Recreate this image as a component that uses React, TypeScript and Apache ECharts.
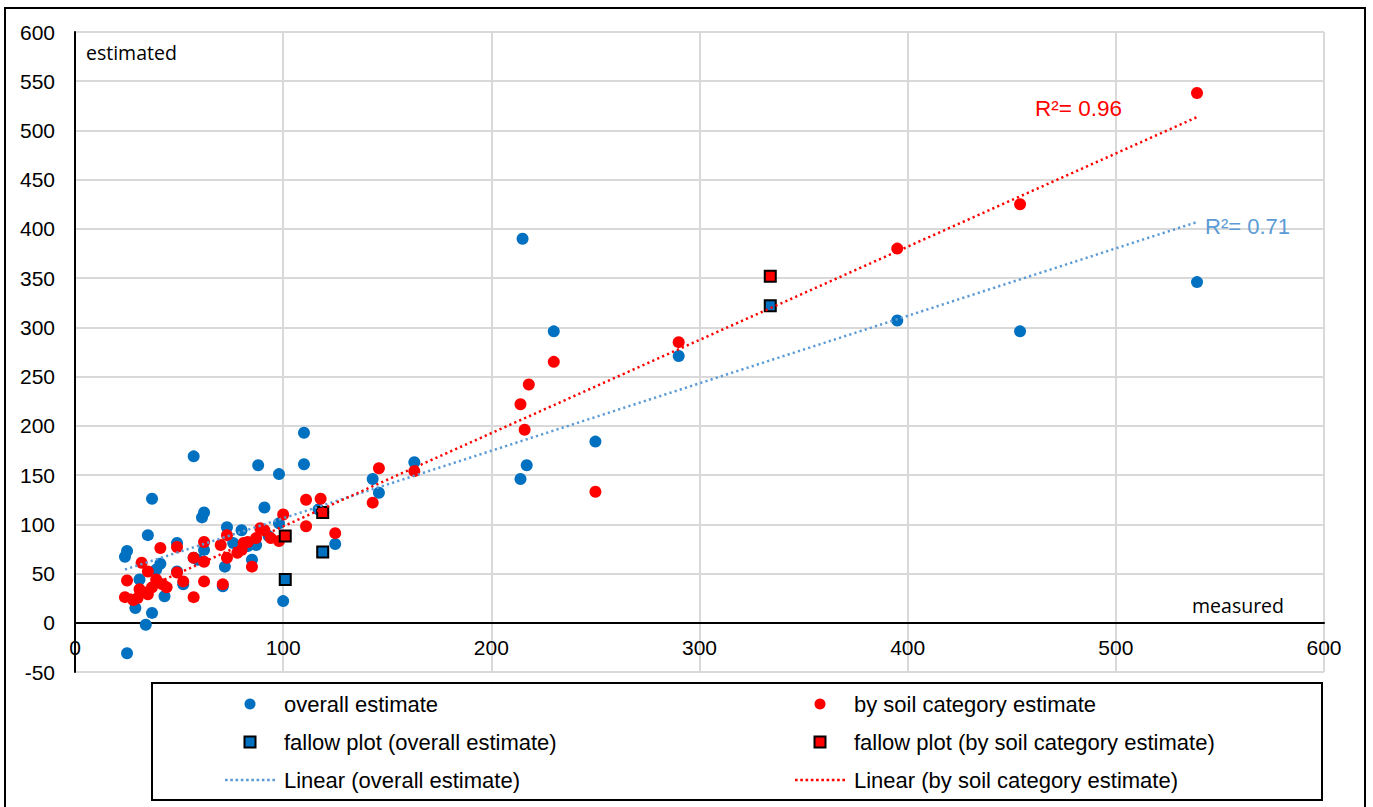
import React, { useEffect, useRef } from "react";
import * as echarts from "echarts";

// measured (x) vs estimated (y)
const overallEstimate: [number, number][] = [
  [24, 67], [25, 73], [25, -31], [29, 15], [31, 44], [34, -2], [35, 89], [37, 10], [37, 126],
  [39, 54], [41, 60], [43, 27], [49, 81], [49, 52], [52, 39], [57, 169], [57, 66], [59, 64],
  [61, 107], [62, 112], [62, 74], [71, 37], [72, 57], [73, 97], [76, 81], [80, 94], [83, 78],
  [85, 64], [87, 79], [88, 160], [91, 117], [93, 88], [98, 151], [98, 101], [100, 22],
  [110, 193], [110, 161], [117, 115], [125, 80], [143, 146], [146, 132], [163, 163],
  [214, 146], [217, 160], [215, 390], [230, 296], [250, 184], [290, 271], [395, 307],
  [454, 296], [539, 346],
];

const soilEstimate: [number, number][] = [
  [24, 26], [25, 43], [28, 23], [30, 25], [31, 34], [32, 61], [35, 52], [35, 29], [37, 36],
  [39, 44], [41, 76], [42, 39], [44, 36], [49, 77], [49, 51], [52, 42], [57, 26], [57, 66],
  [62, 82], [62, 62], [62, 42], [70, 79], [71, 39], [73, 89], [73, 66], [78, 71], [80, 74],
  [81, 81], [83, 82], [85, 57], [87, 86], [89, 96], [91, 94], [94, 86], [98, 83], [100, 110],
  [111, 125], [118, 126], [111, 98], [125, 91], [143, 122], [146, 157], [163, 154],
  [214, 222], [216, 196], [218, 242], [230, 265], [250, 133], [290, 285], [395, 380],
  [454, 425], [539, 538],
];

const fallowOverall: [number, number][] = [[101, 44], [119, 72], [334, 322]];
const fallowSoil: [number, number][] = [[101, 88], [119, 112], [334, 352]];

const seriesNames = [
  "overall estimate",
  "by soil category estimate",
  "fallow plot (overall estimate)",
  "fallow plot (by soil category estimate)",
  "Linear (overall estimate)",
  "Linear (by soil category estimate)",
];

const r2Overall = "R²= 0.71";
const r2Soil = "R²= 0.96";

const xMin = 0, xMax = 600, xStep = 100;
const yMin = -50, yMax = 600, yStep = 50;

function linearFit(pts: [number, number][]): [number, number][] {
  const n = pts.length;
  let sx = 0, sy = 0, sxx = 0, sxy = 0;
  let lo = Infinity, hi = -Infinity;
  for (const [x, y] of pts) {
    sx += x; sy += y; sxx += x * x; sxy += x * y;
    lo = Math.min(lo, x); hi = Math.max(hi, x);
  }
  const b = (n * sxy - sx * sy) / (n * sxx - sx * sx);
  const a = (sy - b * sx) / n;
  return [[lo, a + b * lo], [hi, a + b * hi]];
}

const BLUE = "#0070c0";
const RED = "#ff0000";
const LBLUE = "#5b9bd5";
const FONT = "'Liberation Sans', Arial, sans-serif";

const GRID_TOP = 32;
const GRID_H = 640;
// x axis crosses the y axis at 0
const X_AXIS_OFFSET = -(GRID_H * (0 - yMin)) / (yMax - yMin);

const squareIcon = "path://M0,0H10V10H0Z";
let dotPath = "path://";
for (let i = 0; i < 10; i++) dotPath += `M${i * 5},0h2.5v2.5h-2.5z`;

export default function App() {
  const ref = useRef<HTMLDivElement>(null);
  useEffect(() => {
    if (!ref.current) return;
    const chart = echarts.init(ref.current, undefined, { renderer: "svg" });
    const legendText = {
      fontSize: 22,
      color: "#000",
      fontFamily: FONT,
      lineHeight: 20,
      padding: [0, 0, 0, 4],
    };
    const legendBase = {
      orient: "vertical",
      top: 693,
      padding: 0,
      itemWidth: 50,
      itemHeight: 11,
      itemGap: 16,
      selectedMode: false,
      textStyle: legendText,
    };
    chart.setOption({
      animation: false,
      backgroundColor: "#fff",
      grid: { left: 75, top: GRID_TOP, width: 1249, height: GRID_H, containLabel: false },
      xAxis: {
        type: "value",
        min: xMin,
        max: xMax,
        interval: xStep,
        offset: X_AXIS_OFFSET,
        axisLine: { onZero: false, lineStyle: { color: "#000", width: 2 } },
        axisTick: { show: false },
        axisLabel: { fontSize: 21, color: "#000", margin: 14, fontFamily: FONT },
        splitLine: { show: true, lineStyle: { color: "#d9d9d9", width: 2 } },
      },
      yAxis: {
        type: "value",
        min: yMin,
        max: yMax,
        interval: yStep,
        axisLine: { show: true, onZero: false, lineStyle: { color: "#000", width: 2 } },
        axisTick: { show: false },
        axisLabel: { fontSize: 21, color: "#000", margin: 20, fontFamily: FONT },
        splitLine: { show: true, lineStyle: { color: "#d9d9d9", width: 2 } },
      },
      legend: [
        {
          ...legendBase,
          left: 225,
          data: [
            { name: seriesNames[0], icon: "circle" },
            { name: seriesNames[2], icon: squareIcon },
            { name: seriesNames[4], icon: dotPath, itemStyle: { color: LBLUE } },
          ],
        },
        {
          ...legendBase,
          left: 795,
          data: [
            { name: seriesNames[1], icon: "circle" },
            { name: seriesNames[3], icon: squareIcon },
            { name: seriesNames[5], icon: dotPath, itemStyle: { color: RED } },
          ],
        },
      ],
      graphic: [
        {
          type: "rect",
          shape: { x: 5, y: 8, width: 1360, height: 812 },
          style: { fill: "none", stroke: "#000", lineWidth: 2 },
          silent: true,
          z: 100,
        },
        {
          type: "rect",
          shape: { x: 152, y: 683, width: 1170, height: 117 },
          style: { fill: "none", stroke: "#000", lineWidth: 2 },
          silent: true,
          z: 100,
        },
        {
          type: "text",
          x: 86,
          y: 52,
          style: {
            text: "estimated",
            fontSize: 19.5,
            fontFamily: "'Open Sans', sans-serif",
            fill: "#000",
            verticalAlign: "middle",
          },
          z: 100,
        },
        {
          type: "text",
          x: 1284,
          y: 605,
          style: {
            text: "measured",
            fontSize: 19.5,
            fontFamily: "'Open Sans', sans-serif",
            fill: "#000",
            align: "right",
            verticalAlign: "middle",
          },
          z: 100,
        },
        {
          type: "text",
          x: 1035,
          y: 108,
          style: { text: r2Soil, fontSize: 22.5, fontFamily: FONT, fill: RED, verticalAlign: "middle" },
          z: 100,
        },
        {
          type: "text",
          x: 1205,
          y: 226,
          style: { text: r2Overall, fontSize: 22, fontFamily: FONT, fill: LBLUE, verticalAlign: "middle" },
          z: 100,
        },
      ],
      series: [
        {
          name: seriesNames[0],
          type: "scatter",
          data: overallEstimate,
          symbol: "circle",
          symbolSize: 12,
          symbolKeepAspect: true,
          itemStyle: { color: BLUE, opacity: 1 },
          emphasis: { disabled: true },
          z: 2,
        },
        {
          name: seriesNames[1],
          type: "scatter",
          data: soilEstimate,
          symbol: "circle",
          symbolSize: 12,
          symbolKeepAspect: true,
          itemStyle: { color: RED, opacity: 1 },
          emphasis: { disabled: true },
          z: 3,
        },
        {
          name: seriesNames[2],
          type: "scatter",
          data: fallowOverall,
          symbol: "rect",
          symbolSize: 11,
          symbolKeepAspect: true,
          itemStyle: { color: BLUE, borderColor: "#000", borderWidth: 2, opacity: 1 },
          emphasis: { disabled: true },
          z: 4,
        },
        {
          name: seriesNames[3],
          type: "scatter",
          data: fallowSoil,
          symbol: "rect",
          symbolSize: 11,
          symbolKeepAspect: true,
          itemStyle: { color: RED, borderColor: "#000", borderWidth: 2, opacity: 1 },
          emphasis: { disabled: true },
          z: 4,
        },
        {
          name: seriesNames[4],
          type: "line",
          data: linearFit(overallEstimate),
          symbol: "none",
          symbolKeepAspect: true,
          color: LBLUE,
          lineStyle: { color: LBLUE, width: 2.5, type: [2.2, 3.2] },
          emphasis: { disabled: true },
          silent: true,
          z: 5,
        },
        {
          name: seriesNames[5],
          type: "line",
          data: linearFit(soilEstimate),
          symbol: "none",
          symbolKeepAspect: true,
          color: RED,
          lineStyle: { color: RED, width: 2.5, type: [2.2, 3.2] },
          emphasis: { disabled: true },
          silent: true,
          z: 5,
        },
      ],
    });
    return () => chart.dispose();
  }, []);
  return (
    <div
      ref={ref}
      style={{ position: "fixed", left: 0, top: 0, width: 1373, height: 807, background: "#fff" }}
    />
  );
}
